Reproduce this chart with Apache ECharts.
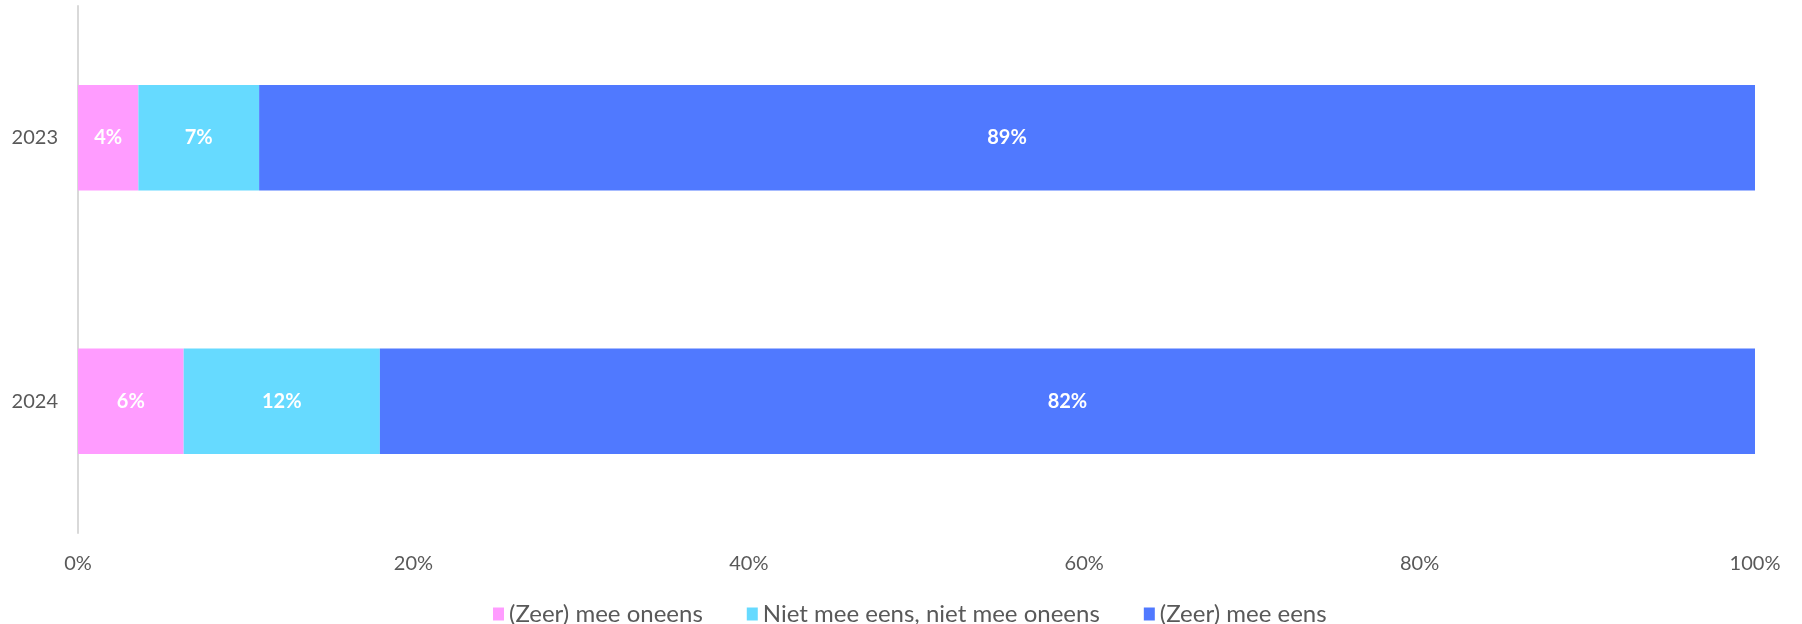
<!DOCTYPE html>
<html>
<head>
<meta charset="utf-8">
<script src="https://cdn.jsdelivr.net/npm/echarts@6/dist/echarts.min.js"></script>
<style>
  html, body { margin: 0; padding: 0; background: #fff; }
  #chart { width: 1802px; height: 624px; }
</style>
</head>
<body>
<div id="chart"></div>
<script>
// jaren (categorieën)
const years = ['2023', '2024'];
// aandelen in procent
const disagree = [3.6, 6.3];
const neutral = [7.2, 11.7];
const agree = [89.2, 82.0];
const seriesNames = ['(Zeer) mee oneens', 'Niet mee eens, niet mee oneens', '(Zeer) mee eens'];
const colors = ['#FF9CFF', '#66DAFF', '#5079FF'];

const chart = echarts.init(document.getElementById('chart'));

const textFont = 'Lato, "Open Sans", sans-serif';

function barSeries(name, data) {
  return {
    name: name,
    type: 'bar',
    stack: 'total',
    barCategoryGap: '60%',
    data: data,
    label: {
      show: true,
      position: 'inside',
      color: '#fff',
      fontWeight: 'bold',
      fontSize: 20,
      fontFamily: textFont,
      formatter: p => Math.round(p.value) + '%'
    }
  };
}

chart.setOption({
  color: colors,
  animation: false,
  grid: { left: 78, right: 47, top: 6, bottom: 91 },
  legend: {
    top: 597,
    left: 488,
    icon: 'rect',
    itemWidth: 11,
    itemHeight: 13,
    itemGap: 44,
    textStyle: { color: '#595959', fontSize: 24, fontFamily: textFont }
  },
  xAxis: {
    type: 'value',
    min: 0,
    max: 100,
    interval: 20,
    axisLine: { show: false },
    axisTick: { show: false },
    splitLine: { show: false },
    axisLabel: {
      color: '#595959',
      fontSize: 20,
      fontFamily: textFont,
      margin: 21,
      formatter: '{value}%'
    }
  },
  yAxis: {
    type: 'category',
    inverse: true,
    data: years,
    axisLine: { show: true, lineStyle: { color: '#D9D9D9', width: 2 } },
    axisTick: { show: false },
    axisLabel: {
      color: '#595959',
      fontSize: 20,
      fontFamily: textFont,
      margin: 20
    }
  },
  series: [
    barSeries(seriesNames[0], disagree),
    barSeries(seriesNames[1], neutral),
    barSeries(seriesNames[2], agree)
  ]
});
</script>
</body>
</html>
